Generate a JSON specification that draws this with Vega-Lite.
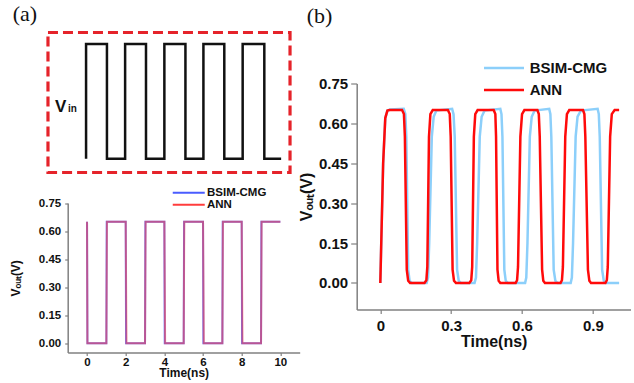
{
  "$schema": "https://vega.github.io/schema/vega-lite/v6.json",
  "background": "white",
  "padding": {"left": 8.7, "top": 2.5, "right": 0, "bottom": 0},
  "config": {
    "view": {"stroke": null},
    "font": "Liberation Sans",
    "axis": {
      "grid": false,
      "domainColor": "#808080",
      "tickColor": "#808080",
      "domainWidth": 1.5,
      "tickWidth": 1.2,
      "labelFont": "Liberation Sans",
      "labelFontWeight": "bold",
      "labelColor": "#111111",
      "titleFont": "Liberation Sans",
      "titleFontWeight": "bold",
      "titleColor": "#111111"
    },
    "legend": {"labelFont": "Liberation Sans", "labelFontWeight": "bold", "labelColor": "#111111"}
  },
  "datasets": {
    "vin": [
      {"t": -0.05, "v": 0}, {"t": -0.05, "v": 1}, {"t": 1.03, "v": 1}, {"t": 1.03, "v": 0},
      {"t": 1.97, "v": 0}, {"t": 1.97, "v": 1}, {"t": 3.05, "v": 1}, {"t": 3.05, "v": 0},
      {"t": 4.0, "v": 0}, {"t": 4.0, "v": 1}, {"t": 5.09, "v": 1}, {"t": 5.09, "v": 0},
      {"t": 6.02, "v": 0}, {"t": 6.02, "v": 1}, {"t": 7.1, "v": 1}, {"t": 7.1, "v": 0},
      {"t": 8.05, "v": 0}, {"t": 8.05, "v": 1}, {"t": 9.17, "v": 1}, {"t": 9.17, "v": 0},
      {"t": 10.04, "v": 0}
    ],
    "voutA": [
      {"series": "BSIM-CMG", "t": 0, "v": 0.65}, {"series": "BSIM-CMG", "t": 0.02, "v": 0},
      {"series": "BSIM-CMG", "t": 1, "v": 0}, {"series": "BSIM-CMG", "t": 1.02, "v": 0.65},
      {"series": "BSIM-CMG", "t": 2, "v": 0.65}, {"series": "BSIM-CMG", "t": 2.02, "v": 0},
      {"series": "BSIM-CMG", "t": 3, "v": 0}, {"series": "BSIM-CMG", "t": 3.02, "v": 0.65},
      {"series": "BSIM-CMG", "t": 4, "v": 0.65}, {"series": "BSIM-CMG", "t": 4.02, "v": 0},
      {"series": "BSIM-CMG", "t": 5, "v": 0}, {"series": "BSIM-CMG", "t": 5.02, "v": 0.65},
      {"series": "BSIM-CMG", "t": 6, "v": 0.65}, {"series": "BSIM-CMG", "t": 6.02, "v": 0},
      {"series": "BSIM-CMG", "t": 7, "v": 0}, {"series": "BSIM-CMG", "t": 7.02, "v": 0.65},
      {"series": "BSIM-CMG", "t": 8, "v": 0.65}, {"series": "BSIM-CMG", "t": 8.02, "v": 0},
      {"series": "BSIM-CMG", "t": 9, "v": 0}, {"series": "BSIM-CMG", "t": 9.02, "v": 0.65},
      {"series": "BSIM-CMG", "t": 10, "v": 0.65},
      {"series": "ANN", "t": 0, "v": 0.65}, {"series": "ANN", "t": 0.02, "v": 0},
      {"series": "ANN", "t": 1, "v": 0}, {"series": "ANN", "t": 1.03, "v": 0.65},
      {"series": "ANN", "t": 2, "v": 0.65}, {"series": "ANN", "t": 2.04, "v": 0},
      {"series": "ANN", "t": 3, "v": 0}, {"series": "ANN", "t": 3.03, "v": 0.65},
      {"series": "ANN", "t": 4, "v": 0.65}, {"series": "ANN", "t": 4.04, "v": 0},
      {"series": "ANN", "t": 5, "v": 0}, {"series": "ANN", "t": 5.03, "v": 0.65},
      {"series": "ANN", "t": 6, "v": 0.65}, {"series": "ANN", "t": 6.04, "v": 0},
      {"series": "ANN", "t": 7, "v": 0}, {"series": "ANN", "t": 7.03, "v": 0.65},
      {"series": "ANN", "t": 8, "v": 0.65}, {"series": "ANN", "t": 8.04, "v": 0},
      {"series": "ANN", "t": 9, "v": 0}, {"series": "ANN", "t": 9.03, "v": 0.65},
      {"series": "ANN", "t": 10, "v": 0.65}
    ],
    "voutB": [
      {"series": "BSIM-CMG", "t": 0, "v": 0}, {"series": "BSIM-CMG", "t": 0.012, "v": 0.45}, {"series": "BSIM-CMG", "t": 0.021, "v": 0.62}, {"series": "BSIM-CMG", "t": 0.03, "v": 0.648}, {"series": "BSIM-CMG", "t": 0.04, "v": 0.652},
      {"series": "BSIM-CMG", "t": 0.099, "v": 0.655}, {"series": "BSIM-CMG", "t": 0.106, "v": 0.635}, {"series": "BSIM-CMG", "t": 0.11, "v": 0.55}, {"series": "BSIM-CMG", "t": 0.118, "v": 0.05}, {"series": "BSIM-CMG", "t": 0.124, "v": 0.008}, {"series": "BSIM-CMG", "t": 0.133, "v": 0},
      {"series": "BSIM-CMG", "t": 0.196, "v": 0}, {"series": "BSIM-CMG", "t": 0.202, "v": 0.02}, {"series": "BSIM-CMG", "t": 0.207, "v": 0.15}, {"series": "BSIM-CMG", "t": 0.218, "v": 0.55}, {"series": "BSIM-CMG", "t": 0.226, "v": 0.625}, {"series": "BSIM-CMG", "t": 0.237, "v": 0.648},
      {"series": "BSIM-CMG", "t": 0.304, "v": 0.655}, {"series": "BSIM-CMG", "t": 0.31, "v": 0.635}, {"series": "BSIM-CMG", "t": 0.315, "v": 0.55}, {"series": "BSIM-CMG", "t": 0.325, "v": 0.05}, {"series": "BSIM-CMG", "t": 0.332, "v": 0.008}, {"series": "BSIM-CMG", "t": 0.341, "v": 0},
      {"series": "BSIM-CMG", "t": 0.399, "v": 0}, {"series": "BSIM-CMG", "t": 0.405, "v": 0.02}, {"series": "BSIM-CMG", "t": 0.41, "v": 0.15}, {"series": "BSIM-CMG", "t": 0.421, "v": 0.55}, {"series": "BSIM-CMG", "t": 0.429, "v": 0.625}, {"series": "BSIM-CMG", "t": 0.441, "v": 0.648},
      {"series": "BSIM-CMG", "t": 0.508, "v": 0.655}, {"series": "BSIM-CMG", "t": 0.513, "v": 0.635}, {"series": "BSIM-CMG", "t": 0.517, "v": 0.55}, {"series": "BSIM-CMG", "t": 0.525, "v": 0.05}, {"series": "BSIM-CMG", "t": 0.531, "v": 0.008}, {"series": "BSIM-CMG", "t": 0.54, "v": 0},
      {"series": "BSIM-CMG", "t": 0.613, "v": 0}, {"series": "BSIM-CMG", "t": 0.618, "v": 0.02}, {"series": "BSIM-CMG", "t": 0.623, "v": 0.15}, {"series": "BSIM-CMG", "t": 0.633, "v": 0.55}, {"series": "BSIM-CMG", "t": 0.641, "v": 0.625}, {"series": "BSIM-CMG", "t": 0.653, "v": 0.648},
      {"series": "BSIM-CMG", "t": 0.715, "v": 0.655}, {"series": "BSIM-CMG", "t": 0.72, "v": 0.635}, {"series": "BSIM-CMG", "t": 0.724, "v": 0.55}, {"series": "BSIM-CMG", "t": 0.734, "v": 0.05}, {"series": "BSIM-CMG", "t": 0.741, "v": 0.008}, {"series": "BSIM-CMG", "t": 0.75, "v": 0},
      {"series": "BSIM-CMG", "t": 0.806, "v": 0}, {"series": "BSIM-CMG", "t": 0.811, "v": 0.02}, {"series": "BSIM-CMG", "t": 0.816, "v": 0.15}, {"series": "BSIM-CMG", "t": 0.827, "v": 0.55}, {"series": "BSIM-CMG", "t": 0.835, "v": 0.625}, {"series": "BSIM-CMG", "t": 0.849, "v": 0.648},
      {"series": "BSIM-CMG", "t": 0.92, "v": 0.655}, {"series": "BSIM-CMG", "t": 0.925, "v": 0.635}, {"series": "BSIM-CMG", "t": 0.929, "v": 0.55}, {"series": "BSIM-CMG", "t": 0.939, "v": 0.05}, {"series": "BSIM-CMG", "t": 0.946, "v": 0.008}, {"series": "BSIM-CMG", "t": 0.955, "v": 0},
      {"series": "BSIM-CMG", "t": 1.011, "v": 0},
      {"series": "ANN", "t": 0, "v": 0}, {"series": "ANN", "t": 0.012, "v": 0.45}, {"series": "ANN", "t": 0.021, "v": 0.62}, {"series": "ANN", "t": 0.03, "v": 0.648}, {"series": "ANN", "t": 0.04, "v": 0.65},
      {"series": "ANN", "t": 0.092, "v": 0.65}, {"series": "ANN", "t": 0.1, "v": 0.635}, {"series": "ANN", "t": 0.104, "v": 0.55}, {"series": "ANN", "t": 0.112, "v": 0.05}, {"series": "ANN", "t": 0.118, "v": 0.008}, {"series": "ANN", "t": 0.126, "v": 0},
      {"series": "ANN", "t": 0.187, "v": 0}, {"series": "ANN", "t": 0.195, "v": 0.01}, {"series": "ANN", "t": 0.199, "v": 0.06}, {"series": "ANN", "t": 0.206, "v": 0.55}, {"series": "ANN", "t": 0.212, "v": 0.635}, {"series": "ANN", "t": 0.222, "v": 0.65},
      {"series": "ANN", "t": 0.286, "v": 0.65}, {"series": "ANN", "t": 0.294, "v": 0.635}, {"series": "ANN", "t": 0.298, "v": 0.55}, {"series": "ANN", "t": 0.306, "v": 0.05}, {"series": "ANN", "t": 0.312, "v": 0.008}, {"series": "ANN", "t": 0.32, "v": 0},
      {"series": "ANN", "t": 0.377, "v": 0}, {"series": "ANN", "t": 0.385, "v": 0.01}, {"series": "ANN", "t": 0.389, "v": 0.06}, {"series": "ANN", "t": 0.396, "v": 0.55}, {"series": "ANN", "t": 0.402, "v": 0.635}, {"series": "ANN", "t": 0.412, "v": 0.65},
      {"series": "ANN", "t": 0.48, "v": 0.65}, {"series": "ANN", "t": 0.487, "v": 0.635}, {"series": "ANN", "t": 0.49, "v": 0.55}, {"series": "ANN", "t": 0.496, "v": 0.05}, {"series": "ANN", "t": 0.501, "v": 0.008}, {"series": "ANN", "t": 0.508, "v": 0},
      {"series": "ANN", "t": 0.573, "v": 0}, {"series": "ANN", "t": 0.579, "v": 0.01}, {"series": "ANN", "t": 0.583, "v": 0.06}, {"series": "ANN", "t": 0.593, "v": 0.55}, {"series": "ANN", "t": 0.6, "v": 0.635}, {"series": "ANN", "t": 0.61, "v": 0.65},
      {"series": "ANN", "t": 0.665, "v": 0.65}, {"series": "ANN", "t": 0.671, "v": 0.635}, {"series": "ANN", "t": 0.675, "v": 0.55}, {"series": "ANN", "t": 0.685, "v": 0.05}, {"series": "ANN", "t": 0.69, "v": 0.008}, {"series": "ANN", "t": 0.697, "v": 0},
      {"series": "ANN", "t": 0.763, "v": 0}, {"series": "ANN", "t": 0.769, "v": 0.01}, {"series": "ANN", "t": 0.773, "v": 0.06}, {"series": "ANN", "t": 0.783, "v": 0.55}, {"series": "ANN", "t": 0.79, "v": 0.635}, {"series": "ANN", "t": 0.8, "v": 0.65},
      {"series": "ANN", "t": 0.858, "v": 0.65}, {"series": "ANN", "t": 0.864, "v": 0.635}, {"series": "ANN", "t": 0.868, "v": 0.55}, {"series": "ANN", "t": 0.879, "v": 0.05}, {"series": "ANN", "t": 0.885, "v": 0.008}, {"series": "ANN", "t": 0.892, "v": 0},
      {"series": "ANN", "t": 0.953, "v": 0}, {"series": "ANN", "t": 0.959, "v": 0.01}, {"series": "ANN", "t": 0.963, "v": 0.06}, {"series": "ANN", "t": 0.973, "v": 0.55}, {"series": "ANN", "t": 0.98, "v": 0.635}, {"series": "ANN", "t": 0.992, "v": 0.65},
      {"series": "ANN", "t": 1.011, "v": 0.65}
    ]
  },
  "bounds": "flush",
  "spacing": 57,
  "resolve": {
    "scale": {"color": "independent", "x": "independent", "y": "independent", "strokeOpacity": "independent"},
    "legend": {"color": "independent"}
  },
  "hconcat": [
    {
      "width": 232,
      "height": 320,
      "title": {"text": "(a)", "anchor": "start", "frame": "group", "dx": -55, "offset": 5, "font": "Liberation Serif", "fontSize": 22, "fontWeight": "normal", "color": "#111111"},
      "resolve": {"scale": {"y": "independent"}},
      "layer": [
        {
          "data": {"name": "voutA"},
          "mark": {"type": "line", "strokeWidth": 2, "clip": false},
          "encoding": {
            "x": {
              "field": "t", "type": "quantitative",
              "scale": {"domain": [-1, 11]},
              "axis": {"values": [0, 2, 4, 6, 8, 10], "title": "Time(ns)", "labelFontSize": 11.5, "titleFontSize": 12, "tickSize": 3, "labelPadding": 1, "titlePadding": 0}
            },
            "y": {
              "field": "v", "type": "quantitative",
              "scale": {"domain": [-0.05, 0.75], "range": [320, 170.6]},
              "axis": {"orient": "left", "values": [0, 0.15, 0.3, 0.45, 0.6, 0.75], "format": ".2f", "title": "Vₒᵤₜ(V)", "labelFontSize": 11.5, "titleFontSize": 12, "tickSize": 3, "labelPadding": 4, "titlePadding": 16}
            },
            "color": {
              "field": "series", "type": "nominal",
              "scale": {"domain": ["BSIM-CMG", "ANN"], "range": ["#4a5cff", "#ff3c3c"]},
              "legend": {"orient": "none", "legendX": 115.3, "legendY": 154.5, "title": null, "symbolType": "M-4,0H4", "symbolSize": 64, "symbolStrokeWidth": 2, "labelFontSize": 11.5, "rowPadding": -1, "labelOffset": 12.5}
            },
            "strokeOpacity": {
              "field": "series", "type": "nominal",
              "scale": {"domain": ["BSIM-CMG", "ANN"], "range": [0.85, 0.55]},
              "legend": null
            },
            "order": {"value": null}
          }
        },
        {
          "data": {"name": "vin"},
          "mark": {"type": "line", "color": "#111111", "strokeWidth": 2.5, "clip": false},
          "encoding": {
            "x": {"field": "t", "type": "quantitative", "scale": {"domain": [-1, 11]}, "axis": {"values": [0, 2, 4, 6, 8, 10], "title": "Time(ns)", "labelFontSize": 11.5, "titleFontSize": 12, "tickSize": 3, "labelPadding": 1, "titlePadding": 0}},
            "y": {"field": "v", "type": "quantitative", "scale": {"domain": [-0.12, 1.1], "range": [140, 0]}, "axis": null},
            "order": {"value": null}
          }
        },
        {
          "data": {"values": [{"label": "Vin box", "t0": -2.02, "t1": 10.5, "v0": -0.12, "v1": 1.1}]},
          "mark": {"type": "rect", "fill": "transparent", "stroke": "#e5232a", "strokeWidth": 3.2, "strokeDash": [10, 5], "clip": false},
          "encoding": {
            "x": {"field": "t0", "type": "quantitative", "scale": {"domain": [-1, 11]}, "axis": {"values": [0, 2, 4, 6, 8, 10], "title": "Time(ns)", "labelFontSize": 11.5, "titleFontSize": 12, "tickSize": 3, "labelPadding": 1, "titlePadding": 0}},
            "x2": {"field": "t1"},
            "y": {"field": "v0", "type": "quantitative", "scale": {"domain": [-0.12, 1.1], "range": [140, 0]}, "axis": null},
            "y2": {"field": "v1"}
          }
        },
        {
          "data": {"values": [{"label": "V", "t": -1.66, "v": 0.403}, {"label": "in", "t": -0.99, "v": 0.403}]},
          "mark": {"type": "text", "align": "left", "baseline": "alphabetic", "fontWeight": "bold", "font": "Liberation Sans", "color": "#111111", "clip": false},
          "encoding": {
            "x": {"field": "t", "type": "quantitative", "scale": {"domain": [-1, 11]}, "axis": {"values": [0, 2, 4, 6, 8, 10], "title": "Time(ns)", "labelFontSize": 11.5, "titleFontSize": 12, "tickSize": 3, "labelPadding": 1, "titlePadding": 0}},
            "y": {"field": "v", "type": "quantitative", "scale": {"domain": [-0.12, 1.1], "range": [140, 0]}, "axis": null},
            "text": {"field": "label"},
            "size": {"field": "label", "type": "nominal", "scale": {"domain": ["V", "in"], "range": [17, 10]}, "legend": null}
          }
        }
      ]
    },
    {
      "width": 274,
      "height": 277,
      "title": {"text": "(b)", "anchor": "start", "frame": "group", "dx": -50, "offset": 5, "font": "Liberation Serif", "fontSize": 22, "fontWeight": "normal", "color": "#111111"},
      "data": {"name": "voutB"},
      "mark": {"type": "line", "strokeWidth": 2.5, "clip": false},
      "encoding": {
        "x": {
          "field": "t", "type": "quantitative",
          "scale": {"domain": [-0.1, 1.06]},
          "axis": {"values": [0, 0.3, 0.6, 0.9], "labelExpr": "datum.value == 0 ? '0' : format(datum.value, '.1f')", "title": "Time(ns)", "labelFontSize": 15, "titleFontSize": 16, "tickSize": 4, "labelPadding": 5, "titlePadding": 0}
        },
        "y": {
          "field": "v", "type": "quantitative",
          "scale": {"domain": [-0.1, 0.75], "range": [277, 51]},
          "axis": {"values": [0, 0.15, 0.3, 0.45, 0.6, 0.75], "format": ".2f", "title": "Vₒᵤₜ(V)", "labelFontSize": 15, "titleFontSize": 16, "tickSize": 6, "labelPadding": 3, "titlePadding": 4}
        },
        "color": {
          "field": "series", "type": "nominal",
          "scale": {"domain": ["BSIM-CMG", "ANN"], "range": ["#8ccffa", "#ff0a0a"]},
          "legend": {"orient": "none", "legendX": 139.8, "legendY": 28, "title": null, "symbolType": "M-4,0H4", "symbolSize": 100, "symbolStrokeWidth": 2.5, "labelFontSize": 15, "rowPadding": 6, "labelOffset": 18.2}
        },
        "order": {"value": null}
      }
    }
  ]
}
